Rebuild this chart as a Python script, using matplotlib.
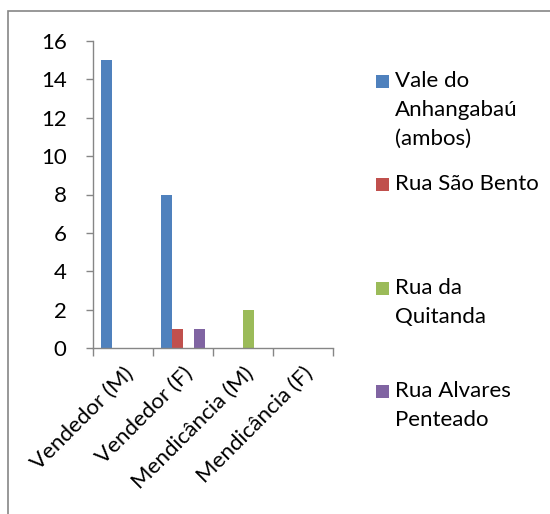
import matplotlib
matplotlib.use("Agg")
import matplotlib.pyplot as plt
import numpy as np
from matplotlib.patches import Rectangle

categories = ["Vendedor (M)", "Vendedor (F)", "Mendicância (M)", "Mendicância (F)"]
series_names = ["Vale do\nAnhangabaú\n(ambos)", "Rua São Bento", "Rua da\nQuitanda", "Rua Alvares\nPenteado"]
vale = [15, 8, 0, 0]
sao_bento = [0, 1, 0, 0]
quitanda = [0, 0, 2, 0]
alvares = [0, 1, 0, 0]
series_values = [vale, sao_bento, quitanda, alvares]
colors = ["#4F81BD", "#C0504D", "#9BBB59", "#8064A2"]

plt.rcParams['font.family'] = ['Lato', 'DejaVu Sans']
FS = 16

W, H = 550, 514
fig = plt.figure(figsize=(W/100, H/100), dpi=100)
ax = fig.add_axes([93/W, 1-348/H, (333-93)/W, (348-41)/H])

n = len(series_values)
gap = 1.5
bw = 1.0/(n+gap)
x = np.arange(len(categories))
for i, (vals, c) in enumerate(zip(series_values, colors)):
    pos = x - 0.5 + gap/2*bw + (i+0.5)*bw
    ax.bar(pos, vals, width=bw, color=c, linewidth=0)

ax.set_xlim(-0.5, len(categories)-0.5)
ax.set_ylim(0, 16)
ax.set_yticks(np.arange(0, 17, 2))
ax.set_xticks(np.arange(len(categories)+1)-0.5, minor=False)
ax.set_xticklabels([])
ax.set_xticks(x, minor=True)
ax.set_xticklabels(categories, minor=True, rotation=45, ha='right', va='top',
                   rotation_mode='anchor', fontsize=FS)
ax.tick_params(axis='x', which='minor', length=0, pad=11)
ax.tick_params(axis='x', which='major', length=6, color='#868686', width=1)
ax.tick_params(axis='y', length=5, color='#868686', width=1, labelsize=FS, pad=14)
for s in ['top', 'right']:
    ax.spines[s].set_visible(False)
for s in ['left', 'bottom']:
    ax.spines[s].set_color('#868686')
    ax.spines[s].set_linewidth(1)

# legend
leg_y = [81, 184, 288, 391]
for name, c, yy in zip(series_names, colors, leg_y):
    fig.patches.append(Rectangle((376/W, 1-(yy+7)/H), 13/W, 13/H, transform=fig.transFigure,
                                 facecolor=c, edgecolor='none'))
    fig.text(395/W, 1-(yy-10)/H, name, fontsize=FS, va='top', ha='left', linespacing=1.55)

# outer border
fig.patches.append(Rectangle((8/W, -0.05), 1.2, 1-11/H+0.05, transform=fig.transFigure,
                             facecolor='none', edgecolor='#868686', linewidth=1.2))

fig.savefig("out.png", dpi=100)
